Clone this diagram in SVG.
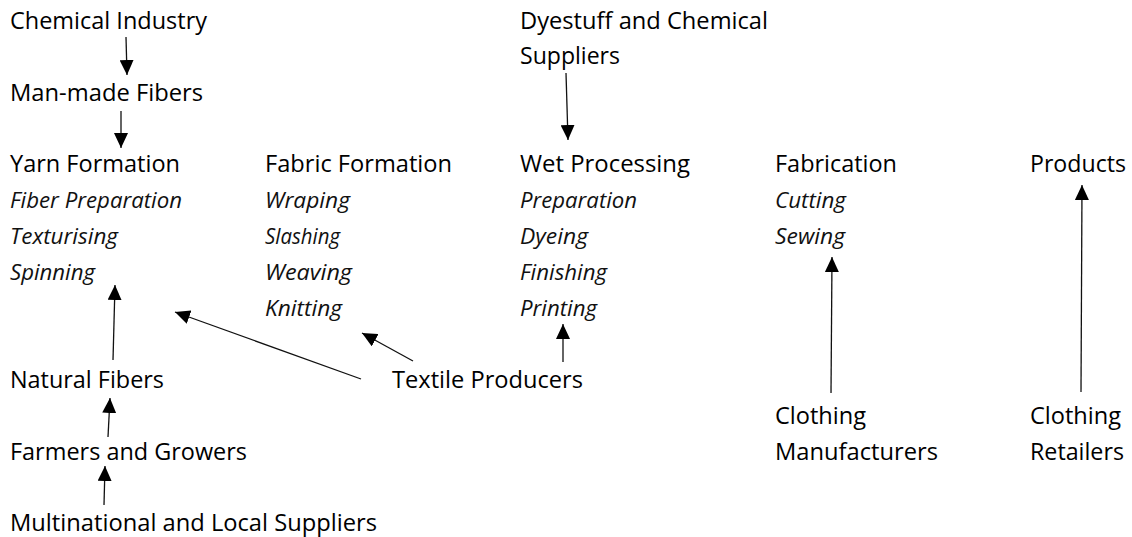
<svg xmlns="http://www.w3.org/2000/svg" width="1132" height="537" viewBox="0 0 1132 537">
<style>
text{font-family:"Open Sans","Liberation Sans",sans-serif;font-size:23px;fill:#000}
.i{font-style:italic;font-size:22.5px;fill:#111}
.c line{stroke:#111;stroke-width:1.3;fill:none;marker-end:url(#ah)}
</style>
<defs>
<marker id="ah" markerUnits="userSpaceOnUse" markerWidth="16" markerHeight="14" refX="15" refY="7" orient="auto" viewBox="0 0 16 14">
<path d="M0,0 L15,7 L0,14 Z" fill="#000"/>
</marker>
</defs>
<rect width="1132" height="537" fill="#fff"/>
<g id="chemical-industry"><text x="10" y="29" textLength="197" lengthAdjust="spacingAndGlyphs">Chemical Industry</text></g>
<g id="man-made-fibers"><text x="10" y="101" textLength="193" lengthAdjust="spacingAndGlyphs">Man-made Fibers</text></g>
<g id="dyestuff"><text x="520" y="29" textLength="248" lengthAdjust="spacingAndGlyphs">Dyestuff and Chemical</text><text x="520" y="64" textLength="100" lengthAdjust="spacingAndGlyphs">Suppliers</text></g>
<g id="yarn-formation"><text x="10" y="172" textLength="170" lengthAdjust="spacingAndGlyphs">Yarn Formation</text>
<text class="i" x="10" y="208" textLength="172" lengthAdjust="spacingAndGlyphs">Fiber Preparation</text>
<text class="i" x="10" y="244" textLength="108" lengthAdjust="spacingAndGlyphs">Texturising</text>
<text class="i" x="10" y="280" textLength="85" lengthAdjust="spacingAndGlyphs">Spinning</text></g>
<g id="fabric-formation"><text x="265" y="172" textLength="187" lengthAdjust="spacingAndGlyphs">Fabric Formation</text>
<text class="i" x="265" y="208" textLength="85" lengthAdjust="spacingAndGlyphs">Wraping</text>
<text class="i" x="265" y="244" textLength="75" lengthAdjust="spacingAndGlyphs">Slashing</text>
<text class="i" x="265" y="280" textLength="87" lengthAdjust="spacingAndGlyphs">Weaving</text>
<text class="i" x="265" y="316" textLength="77" lengthAdjust="spacingAndGlyphs">Knitting</text></g>
<g id="wet-processing"><text x="520" y="172" textLength="170" lengthAdjust="spacingAndGlyphs">Wet Processing</text>
<text class="i" x="520" y="208" textLength="117" lengthAdjust="spacingAndGlyphs">Preparation</text>
<text class="i" x="520" y="244" textLength="68" lengthAdjust="spacingAndGlyphs">Dyeing</text>
<text class="i" x="520" y="280" textLength="87" lengthAdjust="spacingAndGlyphs">Finishing</text>
<text class="i" x="520" y="316" textLength="77" lengthAdjust="spacingAndGlyphs">Printing</text></g>
<g id="fabrication"><text x="775" y="172" textLength="122" lengthAdjust="spacingAndGlyphs">Fabrication</text>
<text class="i" x="775" y="208" textLength="71" lengthAdjust="spacingAndGlyphs">Cutting</text>
<text class="i" x="775" y="244" textLength="70" lengthAdjust="spacingAndGlyphs">Sewing</text></g>
<g id="products"><text x="1030" y="172" textLength="96" lengthAdjust="spacingAndGlyphs">Products</text></g>
<g id="natural-fibers"><text x="10" y="388" textLength="154" lengthAdjust="spacingAndGlyphs">Natural Fibers</text></g>
<g id="textile-producers"><text x="392" y="388" textLength="191" lengthAdjust="spacingAndGlyphs">Textile Producers</text></g>
<g id="farmers"><text x="10" y="460" textLength="237" lengthAdjust="spacingAndGlyphs">Farmers and Growers</text></g>
<g id="multinational"><text x="10" y="531" textLength="367" lengthAdjust="spacingAndGlyphs">Multinational and Local Suppliers</text></g>
<g id="clothing-manufacturers"><text x="775" y="424" textLength="91" lengthAdjust="spacingAndGlyphs">Clothing</text><text x="775" y="460" textLength="163" lengthAdjust="spacingAndGlyphs">Manufacturers</text></g>
<g id="clothing-retailers"><text x="1030" y="424" textLength="91" lengthAdjust="spacingAndGlyphs">Clothing</text><text x="1030" y="460" textLength="94" lengthAdjust="spacingAndGlyphs">Retailers</text></g>
<g id="connectors" class="c">
<line x1="126" y1="37" x2="127" y2="75"/>
<line x1="121" y1="111" x2="121" y2="148"/>
<line x1="566" y1="73" x2="568" y2="140"/>
<line x1="113" y1="360" x2="115" y2="285"/>
<line x1="361" y1="379" x2="175" y2="312"/>
<line x1="413" y1="361" x2="362" y2="333"/>
<line x1="563" y1="362" x2="563" y2="324"/>
<line x1="108" y1="437" x2="110" y2="398"/>
<line x1="104" y1="505" x2="105" y2="466"/>
<line x1="831" y1="393" x2="832" y2="257"/>
<line x1="1081" y1="392" x2="1082" y2="185"/>
</g>
</svg>
